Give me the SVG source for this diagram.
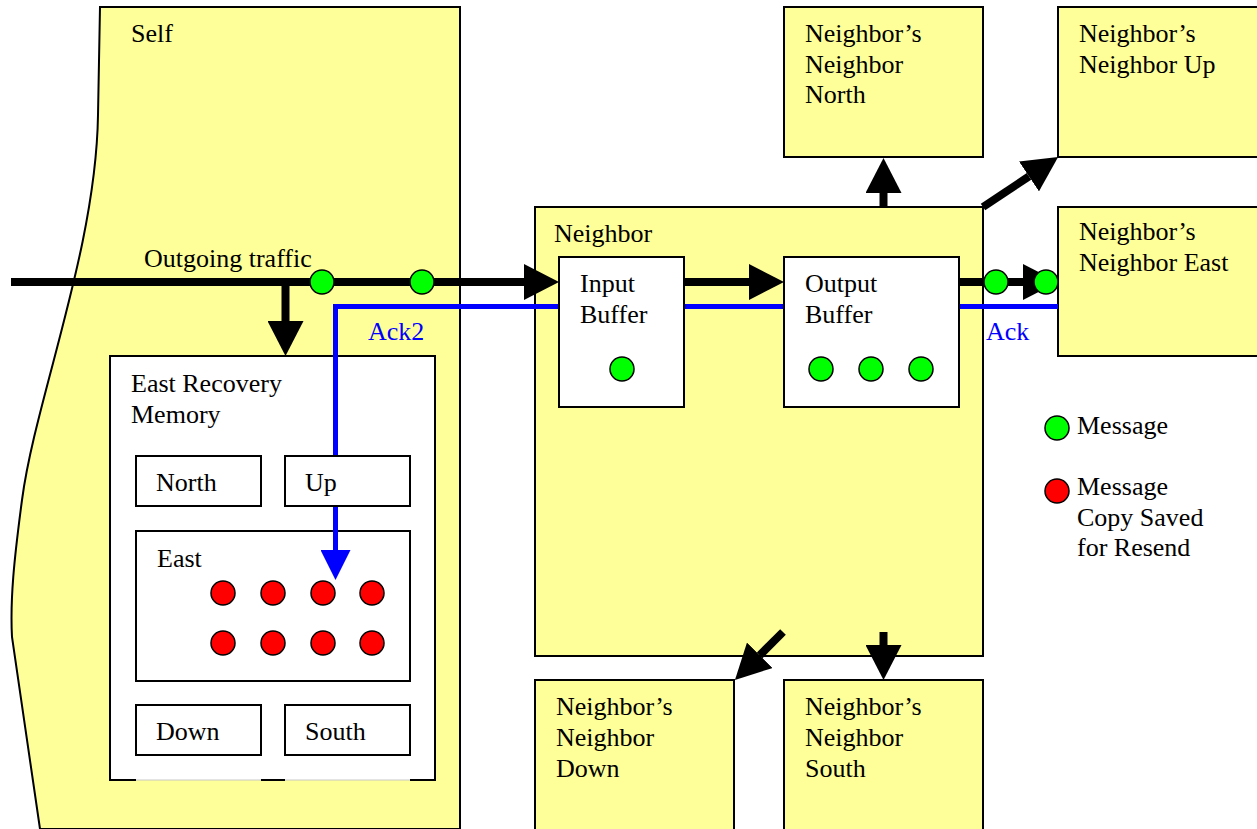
<svg xmlns="http://www.w3.org/2000/svg" width="1257" height="829" viewBox="0 0 1257 829">
  <style>
    .t { font-family: "Liberation Serif", "Times New Roman", serif; font-size: 26px; fill: #000; }
    .ack { fill: #0000ff; }
    .node { fill: #ffff99; stroke: #000; stroke-width: 2; }
    .box { fill: #fff; stroke: #000; stroke-width: 2; }
    .msg { fill: #00ff00; stroke: #000; stroke-width: 1.5; }
    .copy { fill: #ff0000; stroke: #000; stroke-width: 1.5; }
    .flow { fill: none; stroke: #000; stroke-width: 8; }
    .ackline { fill: none; stroke: #0000ff; stroke-width: 5; }
  </style>
  <defs>
    <marker id="head" viewBox="0 -18 35 36" refX="0" refY="0" markerWidth="35" markerHeight="36" markerUnits="userSpaceOnUse" orient="auto">
      <path d="M0,-18 L35,0 L0,18 Z" fill="#000"/>
    </marker>
    <marker id="headBlue" viewBox="0 -15 30 30" refX="0" refY="0" markerWidth="30" markerHeight="30" markerUnits="userSpaceOnUse" orient="auto">
      <path d="M0,-15 L30,0 L0,15 Z" fill="#0000ff"/>
    </marker>
  </defs>

  <rect width="1257" height="829" fill="#fff"/>

  <!-- local node, cut off at the left with a torn edge -->
  <g id="self">
    <path class="node" d="M100,7 H460 V829 H40 L12,637 C10,600 14,560 22,500 C35,400 96,250 98,115 Z"/>
    <text class="t" x="131" y="42">Self</text>
  </g>

  <g id="neighbor">
    <rect class="node" x="535" y="207" width="448" height="449"/>
    <text class="t" x="554" y="242">Neighbor</text>
  </g>

  <g id="nn-north">
    <rect class="node" x="784" y="7" width="199" height="150"/>
    <text class="t" x="805" y="42">Neighbor’s</text>
    <text class="t" x="805" y="73">Neighbor</text>
    <text class="t" x="805" y="103">North</text>
  </g>

  <g id="nn-up">
    <rect class="node" x="1058" y="7" width="205" height="150"/>
    <text class="t" x="1079" y="42">Neighbor’s</text>
    <text class="t" x="1079" y="73">Neighbor Up</text>
  </g>

  <g id="nn-east">
    <rect class="node" x="1058" y="207" width="205" height="149"/>
    <text class="t" x="1079" y="240">Neighbor’s</text>
    <text class="t" x="1079" y="271">Neighbor East</text>
  </g>

  <g id="nn-down">
    <rect class="node" x="535" y="680" width="199" height="160"/>
    <text class="t" x="556" y="715">Neighbor’s</text>
    <text class="t" x="556" y="746">Neighbor</text>
    <text class="t" x="556" y="777">Down</text>
  </g>

  <g id="nn-south">
    <rect class="node" x="784" y="680" width="199" height="160"/>
    <text class="t" x="805" y="715">Neighbor’s</text>
    <text class="t" x="805" y="746">Neighbor</text>
    <text class="t" x="805" y="777">South</text>
  </g>

  <!-- recovery memory with one slot per direction -->
  <g id="east-recovery-memory">
    <rect x="110" y="356" width="325" height="424" fill="#fff"/>
    <path d="M110,780 H435" fill="none" stroke="#c8c8c8" stroke-width="1"/>
    <path d="M136,780 H110 V356 H435 V780 H410 M285,780 H261" fill="none" stroke="#000" stroke-width="2"/>
    <text class="t" x="131" y="392">East Recovery</text>
    <text class="t" x="131" y="423">Memory</text>
  </g>

  <g id="slot-north">
    <rect class="box" x="136" y="456" width="125" height="50"/>
    <text class="t" x="156" y="491">North</text>
  </g>

  <g id="slot-down">
    <rect class="box" x="136" y="705" width="125" height="50"/>
    <text class="t" x="156" y="740">Down</text>
  </g>

  <g id="slot-south">
    <rect class="box" x="285" y="705" width="125" height="50"/>
    <text class="t" x="305" y="740">South</text>
  </g>

  <g id="slot-east">
    <rect class="box" x="136" y="531" width="274" height="150"/>
    <text class="t" x="157" y="567">East</text>
    <circle class="copy" cx="223" cy="593" r="12"/>
    <circle class="copy" cx="273" cy="593" r="12"/>
    <circle class="copy" cx="323" cy="593" r="12"/>
    <circle class="copy" cx="372" cy="593" r="12"/>
    <circle class="copy" cx="223" cy="643" r="12"/>
    <circle class="copy" cx="273" cy="643" r="12"/>
    <circle class="copy" cx="323" cy="643" r="12"/>
    <circle class="copy" cx="372" cy="643" r="12"/>
  </g>

  <g id="connectors">
    <!-- acknowledgement path back into the recovery memory -->
    <path class="ackline" d="M1058,306.5 H335.5 V456"/>
    <path class="ackline" d="M335.5,506 V550" marker-end="url(#headBlue)"/>
    <text class="t ack" x="368" y="340">Ack2</text>
    <text class="t ack" x="986" y="340">Ack</text>

    <!-- message flow -->
    <path class="flow" d="M11,282 H524" marker-end="url(#head)"/>
    <text class="t" x="144" y="267">Outgoing traffic</text>
    <path class="flow" d="M285.5,282 V321" marker-end="url(#head)"/>
    <path class="flow" d="M684,282 H749" marker-end="url(#head)"/>
    <path class="flow" d="M959,282 H1023" marker-end="url(#head)"/>
    <path class="flow" d="M883.5,207 V193" marker-end="url(#head)"/>
    <path class="flow" d="M983,207 L1029,176.4" marker-end="url(#head)"/>
    <path class="flow" d="M783,632 L759.7,655.3" marker-end="url(#head)"/>
    <path class="flow" d="M883.5,632 V645" marker-end="url(#head)"/>
  </g>

  <g id="slot-up">
    <rect class="box" x="285" y="456" width="125" height="50"/>
    <text class="t" x="305" y="491">Up</text>
  </g>

  <g id="input-buffer">
    <rect class="box" x="559" y="257" width="125" height="150"/>
    <text class="t" x="580" y="292">Input</text>
    <text class="t" x="580" y="323">Buffer</text>
    <circle class="msg" cx="622" cy="369" r="12"/>
  </g>

  <g id="output-buffer">
    <rect class="box" x="784" y="257" width="175" height="150"/>
    <text class="t" x="805" y="292">Output</text>
    <text class="t" x="805" y="323">Buffer</text>
    <circle class="msg" cx="821" cy="369" r="12"/>
    <circle class="msg" cx="871" cy="369" r="12"/>
    <circle class="msg" cx="921" cy="369" r="12"/>
  </g>

  <!-- messages in transit -->
  <g id="in-transit">
    <circle class="msg" cx="322" cy="282" r="12"/>
    <circle class="msg" cx="422" cy="282" r="12"/>
    <circle class="msg" cx="996" cy="282" r="12"/>
    <circle class="msg" cx="1046" cy="282" r="12"/>
  </g>

  <g id="legend">
    <circle class="msg" cx="1057" cy="428" r="12"/>
    <text class="t" x="1077" y="434">Message</text>
    <circle class="copy" cx="1057" cy="491" r="12"/>
    <text class="t" x="1077" y="495">Message</text>
    <text class="t" x="1077" y="526">Copy Saved</text>
    <text class="t" x="1077" y="556">for Resend</text>
  </g>
</svg>
